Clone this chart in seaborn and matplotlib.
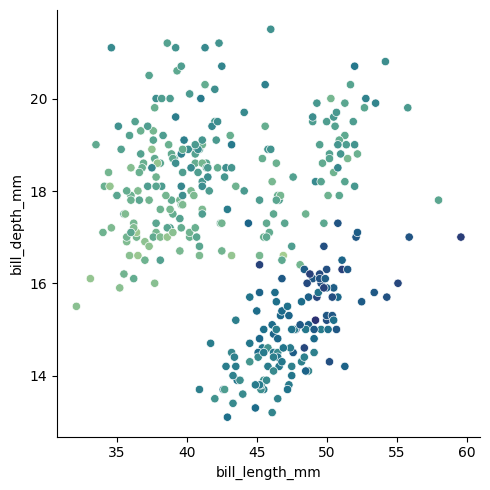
import numpy as np
import pandas as pd
import seaborn as sns
import matplotlib.pyplot as plt

# Adelie
adelie_length = [
    39.1, 39.5, 40.3, 36.7, 39.3, 38.9, 39.2, 34.1, 42.0, 37.8, 37.8, 41.1, 38.6, 34.6, 36.6, 38.7, 42.5, 34.4, 46.0,
    37.8, 37.7, 35.9, 38.2, 38.8, 35.3, 40.6, 40.5, 37.9, 40.5,
    39.5, 37.2, 39.5, 40.9, 36.4, 39.2, 38.8, 42.2, 37.6, 39.8, 36.5, 40.8, 36.0, 44.1, 37.0, 39.6, 41.1, 37.5, 36.0, 42.3,
    39.6, 40.1, 35.0, 42.0, 34.5, 41.4, 39.0, 40.6, 36.5, 37.6, 35.7, 41.3, 37.6, 41.1, 36.4, 41.6, 35.5, 41.1,
    35.9, 41.8, 33.5, 39.7, 39.6, 45.8, 35.5, 42.8, 40.9, 37.2, 36.2, 42.1, 34.6, 42.9, 36.7, 35.1,
    37.3, 41.3, 36.3, 36.9, 38.3, 38.9, 35.7, 41.1, 34.0, 39.6, 36.2, 40.8, 38.1, 40.3, 33.1, 43.2,
    35.0, 41.0, 37.7, 37.8, 37.9, 39.7, 38.6, 38.2, 38.1, 43.2, 38.1, 45.6, 39.7, 42.2, 39.6, 42.7,
    38.6, 37.3, 35.7, 41.1, 36.2, 37.7, 40.2, 41.4, 35.2, 40.6, 38.8, 41.5, 39.0, 44.1, 38.5, 43.1,
    36.8, 37.5, 38.1, 41.1, 35.6, 40.2, 37.0, 39.7, 40.2, 40.6, 32.1, 40.7, 37.3, 39.0, 39.2, 36.6, 36.0, 37.8, 36.0, 41.5,
]
adelie_depth = [
    18.7, 17.4, 18.0, 19.3, 20.6, 17.8, 19.6, 18.1, 20.2, 17.1, 17.3, 17.6, 21.2, 21.1, 17.8, 19.0, 20.7, 18.4, 21.5,
    18.3, 18.7, 19.2, 18.1, 17.2, 18.9, 18.6, 17.9, 18.6, 18.9,
    16.7, 18.1, 17.8, 18.9, 17.0, 21.1, 20.0, 18.5, 19.3, 19.1, 18.0, 18.4, 18.5, 19.7, 16.9, 18.8, 19.0, 18.9, 17.9, 21.2,
    17.7, 18.9, 17.9, 19.5, 18.1, 18.6, 17.5, 18.8, 16.6, 19.1, 16.9, 21.1, 17.0, 18.2, 17.1, 18.0, 16.2, 19.1,
    16.6, 19.4, 19.0, 18.4, 17.2, 18.9, 17.5, 18.5, 16.8, 19.4, 16.1, 19.1, 17.2, 17.6, 18.8, 19.4,
    17.8, 20.3, 19.5, 18.6, 19.2, 18.8, 18.0, 18.1, 17.1, 18.1, 17.3, 18.9, 18.6, 18.5, 16.1, 18.5,
    17.9, 20.0, 16.0, 20.0, 18.6, 18.9, 17.2, 20.0, 17.0, 19.0, 16.5, 20.3, 17.7, 19.5, 20.7, 18.3,
    17.0, 20.5, 17.0, 18.6, 17.2, 19.8, 17.0, 18.5, 15.9, 19.0, 17.6, 18.3, 17.1, 18.0, 17.9, 19.2,
    18.5, 18.5, 17.6, 17.5, 17.5, 20.1, 16.5, 17.9, 17.1, 17.2, 15.5, 17.0, 16.8, 18.7, 18.6, 18.4, 17.8, 18.1, 17.1, 18.5,
]
adelie_mass = [
    3750, 3800, 3250, 3450, 3650, 3625, 4675, 3475, 4250, 3300, 3700, 3200, 3800, 4400, 3700, 3450, 4500, 3325, 4200,
    3400, 3600, 3800, 3950, 3800, 3800, 3550, 3200, 3150, 3950,
    3250, 3900, 3300, 3900, 3325, 4150, 3950, 3550, 3300, 4650, 3150, 3900, 3100, 4400, 3000, 4600, 3425, 2975, 3450, 4150,
    3500, 4300, 3450, 4050, 2900, 3700, 3550, 3800, 2850, 3750, 3150, 4400, 3600, 4050, 2850, 3950, 3350, 4100,
    3050, 4450, 3600, 3900, 3550, 4150, 3700, 4250, 3700, 3900, 3550, 4000, 3200, 4700, 3800, 4200,
    3350, 3550, 3800, 3500, 3950, 3600, 3550, 4300, 3400, 4450, 3300, 4300, 3700, 4350, 2900, 4100,
    3725, 4725, 3075, 4250, 2925, 3550, 3750, 3900, 3175, 4775, 3825, 4600, 3200, 4275, 3900, 4075,
    2900, 3775, 3350, 3325, 3150, 3500, 3450, 3875, 3050, 4000, 3275, 4300, 3050, 4000, 3325, 3500,
    3500, 4475, 3425, 3900, 3175, 3975, 3400, 4250, 3400, 3475, 3050, 3725, 3000, 3650, 4250, 3475, 3450, 3750, 3700, 4000,
]

# Chinstrap
chinstrap_length = [
    46.5, 50.0, 51.3, 45.4, 52.7, 45.2, 46.1, 51.3, 46.0, 51.3, 46.6, 51.7, 47.0, 52.0, 45.9, 50.5, 50.3, 58.0,
    46.4, 49.2, 42.4, 48.5, 43.2, 50.6, 46.7, 52.0, 50.5, 49.5, 46.4, 52.8, 40.9, 54.2, 42.5, 51.0, 49.7, 47.5,
    47.6, 52.0, 46.9, 53.5, 49.0, 46.2, 50.9, 45.5, 50.9, 50.8, 50.1, 49.0, 51.5, 49.8, 48.1, 51.4, 45.7, 50.7,
    42.5, 52.2, 45.2, 49.3, 50.2, 45.6, 51.9, 46.8, 45.7, 55.8, 43.5, 49.6, 50.8, 50.2,
]
chinstrap_depth = [
    17.9, 19.5, 19.2, 18.7, 19.8, 17.8, 18.2, 18.2, 18.9, 19.9, 17.8, 20.3, 17.3, 18.1, 17.1, 19.6, 20.0, 17.8,
    18.6, 18.2, 17.3, 17.5, 16.6, 19.4, 17.9, 19.0, 18.4, 19.0, 17.8, 20.0, 16.6, 20.8, 16.7, 18.8, 18.6, 16.8,
    18.3, 20.7, 16.6, 19.9, 19.5, 17.5, 19.1, 17.0, 17.9, 18.5, 17.9, 19.6, 18.7, 17.3, 16.4, 19.0, 17.3, 19.7,
    17.3, 18.8, 16.6, 19.9, 18.8, 19.4, 19.5, 16.5, 17.0, 19.8, 18.1, 18.2, 19.0, 18.7,
]
chinstrap_mass = [
    3500, 3900, 3650, 3525, 3725, 3950, 3250, 3750, 4150, 3700, 3800, 3775, 3700, 4050, 3575, 4050, 3300, 3700,
    3450, 4400, 3600, 3400, 2900, 3800, 3300, 4150, 3400, 3800, 3700, 4550, 3200, 4300, 3350, 4100, 3600, 3900,
    3850, 4800, 2700, 4500, 3950, 3650, 3550, 3500, 3675, 4450, 3400, 4300, 3250, 3675, 3325, 3950, 3600, 4050,
    3350, 3450, 3250, 4050, 3800, 3525, 3950, 3650, 3650, 4000, 3400, 3775, 4100, 3775,
]

# Gentoo
gentoo_length = [
    46.1, 50.0, 48.7, 50.0, 47.6, 46.5, 45.4, 46.7, 43.3, 46.8, 40.9, 49.0, 45.5, 48.4, 45.8, 49.3, 42.0, 49.2,
    46.2, 48.7, 50.2, 45.1, 46.5, 46.3, 42.9, 46.1, 44.5, 47.8, 48.2, 50.0, 47.3, 42.8, 45.1, 59.6, 49.1, 48.4,
    42.6, 44.4, 44.0, 48.7, 42.7, 49.6, 45.3, 49.6, 50.5, 43.6, 45.5, 50.5, 44.9, 45.2, 46.6, 48.5, 45.1, 50.1,
    46.5, 45.0, 43.8, 45.5, 43.2, 50.4, 45.3, 46.2, 45.7, 54.3, 45.8, 49.8, 46.2, 49.5, 43.5, 50.7, 47.7, 46.4,
    48.2, 46.5, 46.4, 48.6, 47.5, 51.1, 45.2, 45.2, 49.1, 52.5, 47.4, 50.0, 44.9, 50.8, 43.4, 51.3, 47.5, 52.1,
    47.5, 52.2, 45.5, 49.5, 44.5, 50.8, 49.4, 46.9, 48.4, 51.1, 48.5, 55.9, 47.2, 49.1, 47.3, 46.8, 41.7, 53.4,
    43.3, 48.1, 50.5, 49.8, 43.5, 51.5, 46.2, 55.1, 44.5, 48.8, 47.2, 46.8, 50.4, 45.2, 49.9,
]
gentoo_depth = [
    13.2, 16.3, 14.1, 15.2, 14.5, 13.5, 14.6, 15.3, 13.4, 15.4, 13.7, 16.1, 13.7, 14.6, 14.6, 15.7, 13.5, 15.2,
    14.5, 15.1, 14.3, 14.5, 14.5, 15.8, 13.1, 15.1, 14.3, 15.0, 14.3, 15.3, 15.3, 14.2, 14.5, 17.0, 14.8, 16.3,
    13.7, 17.3, 13.6, 15.7, 13.7, 16.0, 13.7, 15.0, 15.9, 13.9, 13.9, 15.9, 13.3, 15.8, 14.2, 14.1, 14.4, 15.0,
    14.4, 15.4, 13.9, 15.0, 14.5, 15.3, 13.8, 14.9, 13.9, 15.7, 14.2, 16.8, 14.4, 16.2, 14.2, 15.0, 15.0, 15.6,
    15.6, 14.8, 15.0, 16.0, 14.2, 16.3, 13.8, 16.4, 14.5, 15.6, 14.6, 15.9, 13.8, 17.3, 14.4, 14.2, 14.0, 17.0,
    15.0, 17.1, 14.5, 16.1, 14.7, 15.7, 15.8, 14.6, 14.4, 16.5, 15.0, 17.0, 15.5, 15.0, 13.8, 16.1, 14.7, 15.8,
    14.0, 15.1, 15.2, 15.9, 15.2, 16.3, 14.1, 16.0, 15.7, 16.2, 13.7, 14.3, 15.7, 14.8, 16.1,
]
gentoo_mass = [
    4500, 5700, 4450, 5700, 5400, 4550, 4800, 5200, 4400, 5150, 4650, 5550, 4650, 5850, 4200, 5850, 4150, 6300,
    4800, 5350, 5700, 5000, 4400, 5050, 5000, 5100, 4100, 5650, 4600, 5550, 5250, 4700, 5050, 6050, 5150, 5400,
    4950, 5250, 4350, 5350, 3950, 5700, 4300, 4750, 5550, 4900, 4200, 5400, 5100, 5300, 4850, 5300, 4400, 5000,
    4900, 5050, 4300, 5000, 4450, 5550, 4200, 5300, 4400, 5650, 4700, 5700, 4650, 5800, 4700, 5550, 4750, 5000,
    5100, 5200, 4700, 5800, 4600, 6000, 4750, 5950, 4625, 5450, 4725, 5350, 4750, 5600, 4600, 5300, 4875, 5550,
    4950, 5400, 4750, 5650, 4850, 5200, 4925, 4875, 4625, 5250, 4850, 5600, 4975, 5500, 4725, 5500, 4700, 5500,
    4575, 5500, 5000, 5950, 4650, 5500, 4375, 5850, 4875, 6000, 4925, 4850, 5750, 5200, 5400,
]

penguins = pd.DataFrame({
    'bill_length_mm': adelie_length + chinstrap_length + gentoo_length,
    'bill_depth_mm': adelie_depth + chinstrap_depth + gentoo_depth,
    'body_mass_g': adelie_mass + chinstrap_mass + gentoo_mass,
})

g = sns.relplot(
    data=penguins, x='bill_length_mm', y='bill_depth_mm',
    hue='body_mass_g', palette='crest', legend=False, height=5
)
g.savefig('out.png', dpi=100, bbox_inches='tight')
